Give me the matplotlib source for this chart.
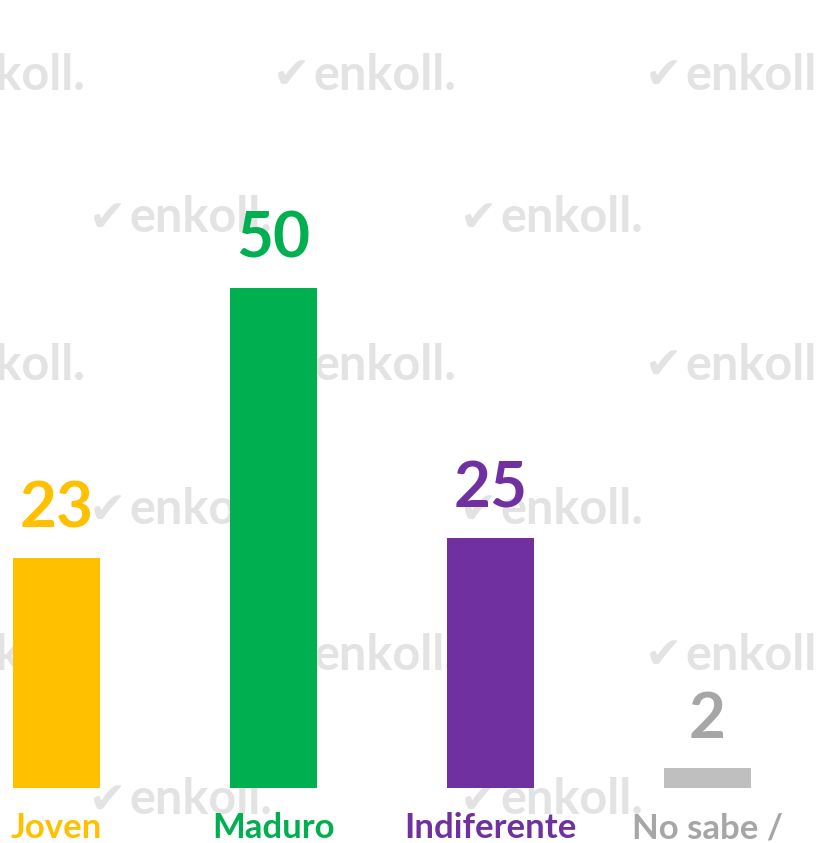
import matplotlib.pyplot as plt

categorias = ['Joven', 'Maduro', 'Indiferente', 'No sabe /']
valores = [23, 50, 25, 2]
colores = ['#FFC000', '#00B050', '#7030A0', '#BFBFBF']
colores_texto = ['#FFC000', '#00B050', '#7030A0', '#A6A6A6']

plt.rcParams['font.family'] = ['Lato', 'DejaVu Sans']

fig = plt.figure(figsize=(8.17, 8.43), dpi=100)
ax = fig.add_axes([0, 0, 1, 1])
ax.set_xlim(-0.2604, 3.5046)
ax.set_ylim(-5.5, 78.8)
ax.axis('off')

# marca de agua (en pixeles de la figura), detras de las barras
filas = [75, 218, 365, 510, 655, 800]
for i, yp in enumerate(filas):
    xs = [-8, 363, 735] if i % 2 == 0 else [179, 550]
    for xp in xs:
        ax.text((xp - 72) / 817, 1 - yp / 843, '\u2714', color='#E3E3E3',
                fontsize=32, fontweight='bold', ha='center', va='center',
                family='DejaVu Sans', transform=fig.transFigure, zorder=1)
        ax.text((xp + 22) / 817, 1 - yp / 843, 'enkoll.', color='#E3E3E3',
                fontsize=35, fontweight='bold', ha='center', va='center',
                transform=fig.transFigure, zorder=1)

x = range(len(categorias))
ax.bar(x, valores, width=0.4, color=colores, zorder=2)

for i, v in enumerate(valores):
    ax.text(i, v + 3.0, str(v), ha='center', va='baseline', fontsize=46,
            fontweight='bold', color=colores_texto[i], zorder=3)
    ax.text(i, -5.0, categorias[i], ha='center', va='baseline', fontsize=25,
            fontweight='bold', color=colores_texto[i], clip_on=False, zorder=3)

fig.savefig('out.png', dpi=100, facecolor='white')
